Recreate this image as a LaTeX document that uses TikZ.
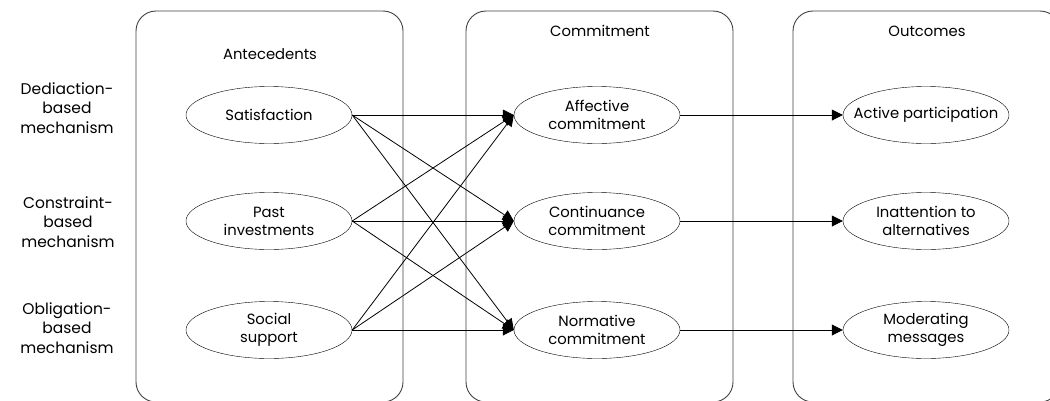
\documentclass[tikz,border=0pt]{standalone}
\usepackage{fontspec}
\setmainfont{Poppins}
\usetikzlibrary{shapes.geometric,arrows.meta}
\begin{document}
\begin{tikzpicture}[x=1pt,y=-1pt,
	font=\fontsize{14.8}{18}\selectfont,
	oval/.style={draw,ellipse,minimum width=166pt,minimum height=57pt,inner sep=0pt,align=center},
	panel/.style={draw=black!75,rounded corners=20pt,line width=0.9pt},
	mech/.style={align=center,font=\fontsize{15.5}{19.5}\selectfont},
	link/.style={-{Triangle[length=11pt,width=11pt]},line width=0.8pt}]
	\useasboundingbox (0,0) rectangle (1050,400);

	% panels
	\draw[panel] (136,11) rectangle (403,402);
	\draw[panel] (466,11) rectangle (733,402);
	\draw[panel] (793,11) rectangle (1060,402);
	\node (t1) at (270,54) {Antecedents};
	\node (t2) at (600,31) {Commitment};
	\node (t3) at (927,31) {Outcomes};

	% mechanisms
	\node[mech] (m1) at (67,108) {Dediaction-\\based\\mechanism};
	\node[mech] (m2) at (68,222) {Constraint-\\based\\mechanism};
	\node[mech] (m3) at (67,328) {Obligation-\\based\\mechanism};

	\node[oval] (a1) at (269,115) {Satisfaction};
	\node[oval] (a2) at (269,221) {Past\\investments};
	\node[oval] (a3) at (269,330) {Social\\support};

	\node[oval] (c1) at (597,115) {Affective\\commitment};
	\node[oval] (c2) at (597,221) {Continuance\\commitment};
	\node[oval] (c3) at (597,330) {Normative\\commitment};

	\node[oval,inner xsep=-20pt] (o1) at (926,115) {Active participation};
	\node[oval] (o2) at (926,221) {Inattention to\\alternatives};
	\node[oval] (o3) at (926,330) {Moderating\\messages};

	\draw[link] (a1.east)--(c1.west);
	\draw[link] (a1.east)--(c2.west);
	\draw[link] (a1.east)--(c3.west);
	\draw[link] (a2.east)--(c1.west);
	\draw[link] (a2.east)--(c2.west);
	\draw[link] (a2.east)--(c3.west);
	\draw[link] (a3.east)--(c1.west);
	\draw[link] (a3.east)--(c2.west);
	\draw[link] (a3.east)--(c3.west);

	\draw[link] (c1.east)--(o1.west);
	\draw[link] (c2.east)--(o2.west);
	\draw[link] (c3.east)--(o3.west);
\end{tikzpicture}
\end{document}
